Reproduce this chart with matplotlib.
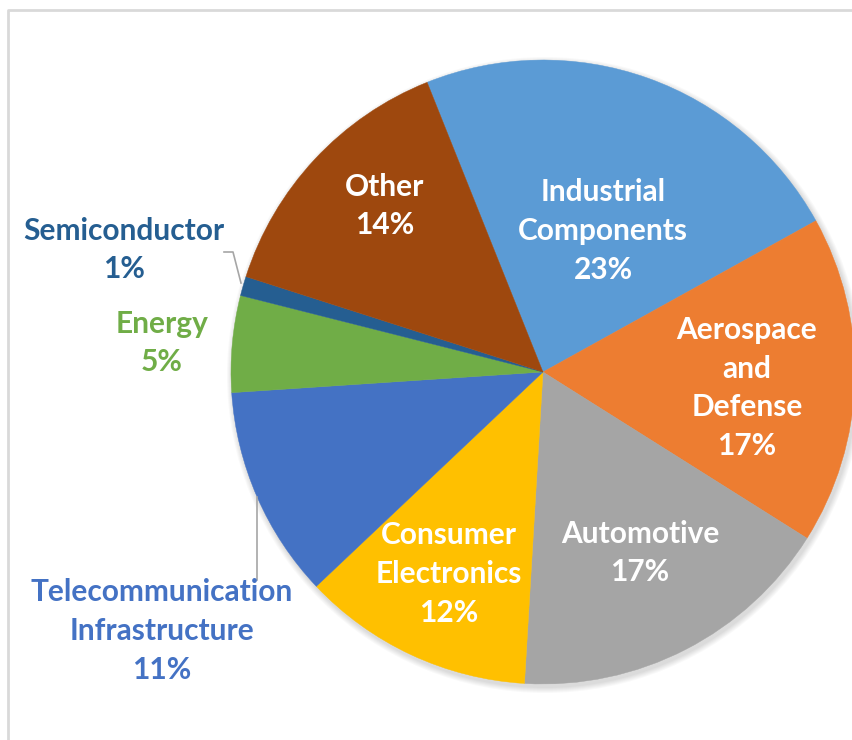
import numpy as np
import matplotlib.pyplot as plt
from matplotlib.patches import Circle

# data
sectors = ['Industrial\nComponents', 'Aerospace\nand\nDefense', 'Automotive',
           'Consumer\nElectronics', 'Telecommunication\nInfrastructure',
           'Energy', 'Semiconductor', 'Other']
shares = [23, 17, 17, 12, 11, 5, 1, 14]
colors = ['#5B9BD5', '#ED7D31', '#A5A5A5', '#FFC000', '#4472C4',
          '#70AD47', '#255E91', '#9E480E']

# label centres in pixel coords (x, y from top) and whether label sits outside
label_pos = [(603, 231), (747, 388), (640, 553), (449, 574), (162, 631),
             (162, 343), (124, 250), (385, 206)]
outside = [False, False, False, False, True, True, True, False]

W, H = 853, 740
cx, cy, r = 543, 372, 312

plt.rcParams['font.family'] = ['Lato', 'DejaVu Sans']

fig = plt.figure(figsize=(W / 100, H / 100), dpi=100)
ax = fig.add_axes([0, 0, 1, 1])

# soft shadow behind the pie
for k in range(6):
    ax.add_patch(Circle((cx + 2, H - cy - 3), r + 1 + k, color='black',
                        alpha=0.025, lw=0, zorder=0))

wedges, _ = ax.pie(shares, colors=colors, startangle=90 + 21.8, counterclock=False,
                   center=(cx, H - cy), radius=r, frame=True)
for w, c in zip(wedges, colors):
    w.set_edgecolor(c)
    w.set_linewidth(0.3)
ax.set_xlim(0, W)
ax.set_ylim(0, H)
ax.set_aspect('equal')
ax.axis('off')

for name, val, col, (x, y), out in zip(sectors, shares, colors, label_pos, outside):
    ax.text(x, H - y, f'{name}\n{val}%', ha='center', va='center',
            fontsize=21.5, fontweight='bold', color=col if out else 'white',
            linespacing=1.47, zorder=5)

# leader lines
ax.plot([224, 233, 241], [H - 252, H - 252, H - 283], color='#A6A6A6', lw=1.2, zorder=4)
ax.plot([257, 257], [H - 497, H - 580], color='#A6A6A6', lw=1.2, zorder=4)

# chart area border
ax.plot([8.5, 8.5, W], [0, H - 9.5, H - 9.5], color='#D9D9D9', lw=2, zorder=1)

fig.savefig('out.png', dpi=100)
